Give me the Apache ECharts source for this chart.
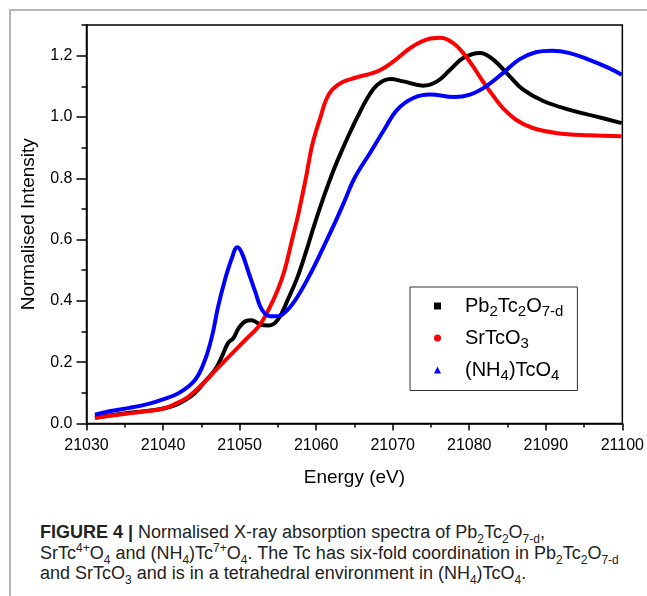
<!DOCTYPE html>
<html>
<head>
<meta charset="utf-8">
<script src="https://cdn.jsdelivr.net/npm/echarts@6/dist/echarts.min.js"></script>
<style>
  html, body { margin: 0; padding: 0; background: #fff; }
  #frame {
    position: absolute; left: 9px; top: 9px; width: 660px; height: 620px;
    border-top: 2px solid #b4b4b4; border-left: 2px solid #b4b4b4;
  }
  #chart { position: absolute; left: 0; top: 0; width: 647px; height: 510px; }
  #caption {
    position: absolute; left: 40px; top: 522px; width: 610px;
    font-family: "Liberation Sans", Arial, sans-serif; font-size: 18px;
    line-height: 20.5px; color: #222; white-space: nowrap;
  }
  #caption sub, #caption sup { font-size: 12px; line-height: 0; }
</style>
</head>
<body>
<div id="frame"></div>
<div id="chart"></div>
<div id="caption"><b>FIGURE 4 |</b> Normalised X-ray absorption spectra of Pb<sub>2</sub>Tc<sub>2</sub>O<sub>7-d</sub>,<br>SrTc<sup>4+</sup>O<sub>4</sub> and (NH<sub>4</sub>)Tc<sup>7+</sup>O<sub>4</sub>. The Tc has six-fold coordination in Pb<sub>2</sub>Tc<sub>2</sub>O<sub>7-d</sub><br>and SrTcO<sub>3</sub> and is in a tetrahedral environment in (NH<sub>4</sub>)TcO<sub>4</sub>.</div>
<script>
// series names as in the legend
const seriesNames = ["Pb2Tc2O7-d", "SrTcO3", "(NH4)TcO4"];

// Pb2Tc2O7-d (black squares)
const pbEnergy = [21031.1, 21033.0, 21035.6, 21038.1, 21039.9, 21041.6, 21043.0, 21044.2, 21045.5, 21046.8,
  21047.7, 21048.5, 21049.2, 21049.9, 21050.8, 21051.6, 21052.7, 21053.8, 21055.0, 21056.3,
  21057.6, 21058.9, 21059.7, 21061.0, 21062.3, 21063.7, 21064.6, 21065.4, 21066.7, 21068.0,
  21069.7, 21071.4, 21074.0, 21075.8, 21077.5, 21079.2, 21081.4, 21083.1, 21085.2, 21087.0,
  21089.6, 21093.0, 21096.5, 21099.9];
const pbIntensity = [0.019, 0.026, 0.035, 0.042, 0.048, 0.060, 0.078, 0.100, 0.138, 0.176,
  0.219, 0.263, 0.279, 0.312, 0.334, 0.337, 0.323, 0.320, 0.339, 0.404,
  0.480, 0.578, 0.643, 0.740, 0.828, 0.910, 0.959, 1.000, 1.062, 1.105,
  1.124, 1.116, 1.102, 1.116, 1.154, 1.192, 1.209, 1.188, 1.135, 1.090,
  1.053, 1.024, 1.002, 0.980];

// SrTcO3 (red circles)
const srEnergy = [21031.1, 21035.6, 21039.9, 21041.6, 21043.4, 21045.5, 21047.2, 21049.0, 21050.8, 21052.5,
  21053.8, 21055.0, 21055.9, 21056.8, 21057.6, 21058.1, 21058.7, 21059.1, 21059.5, 21060.0,
  21060.6, 21061.3, 21062.1, 21063.4, 21065.0, 21068.0, 21070.1, 21072.3, 21074.4, 21076.2,
  21077.9, 21079.2, 21080.5, 21081.8, 21083.1, 21084.4, 21086.1, 21088.3, 21091.3, 21095.6,
  21099.9];
const srIntensity = [0.019, 0.033, 0.048, 0.064, 0.089, 0.138, 0.182, 0.228, 0.274, 0.317,
  0.372, 0.437, 0.502, 0.594, 0.675, 0.733, 0.806, 0.861, 0.910, 0.955,
  1.002, 1.056, 1.089, 1.113, 1.127, 1.149, 1.181, 1.225, 1.252, 1.258,
  1.241, 1.209, 1.165, 1.115, 1.070, 1.029, 0.991, 0.964, 0.948, 0.940,
  0.937];

// (NH4)TcO4 (blue triangles)
const nhEnergy = [21031.1, 21033.0, 21035.6, 21038.1, 21039.9, 21042.1, 21044.2, 21045.5, 21046.4, 21047.2,
  21048.1, 21049.0, 21049.7, 21050.3, 21051.2, 21052.1, 21052.9, 21054.0, 21055.0, 21056.3,
  21057.6, 21059.3, 21061.0, 21062.4, 21063.7, 21065.0, 21067.1, 21068.9, 21070.6, 21072.7,
  21074.9, 21078.0, 21080.1, 21082.2, 21084.4, 21086.5, 21088.7, 21090.8, 21093.0, 21095.6,
  21098.2, 21099.9];
const nhIntensity = [0.029, 0.040, 0.051, 0.064, 0.078, 0.100, 0.143, 0.209, 0.285, 0.382,
  0.470, 0.540, 0.575, 0.556, 0.491, 0.426, 0.372, 0.350, 0.350, 0.372,
  0.415, 0.491, 0.578, 0.652, 0.725, 0.800, 0.885, 0.959, 1.024, 1.062,
  1.073, 1.065, 1.073, 1.100, 1.143, 1.187, 1.211, 1.216, 1.209, 1.187,
  1.160, 1.138];

const yMajorTicks = [0, 0.2, 0.4, 0.6, 0.8, 1.0, 1.2];

const zip = (xs, ys) => xs.map((x, i) => [x, ys[i]]);

const chart = echarts.init(document.getElementById("chart"));
const font = '"Liberation Sans", Arial, sans-serif';

const legendText = {
  "Pb2Tc2O7-d": "Pb{s|2}Tc{s|2}O{s|7-d}",
  "SrTcO3": "SrTcO{s|3}",
  "(NH4)TcO4": "(NH{s|4})TcO{s|4}"
};

const option = {
  animation: false,
  grid: { left: 86.5, right: 20, top: 25, bottom: 86.5, show: true, borderColor: "#000", borderWidth: 1.5 },
  legend: {
    orient: "vertical",
    left: 410,
    top: 287,
    padding: [9, 14, 7, 24],
    itemGap: 8.5,
    itemWidth: 7,
    itemHeight: 7,
    backgroundColor: "#fff",
    borderColor: "#333",
    borderWidth: 1,
    data: [
      { name: seriesNames[0], icon: "rect" },
      { name: seriesNames[1], icon: "circle" },
      { name: seriesNames[2], icon: "triangle" }
    ],
    formatter: (name) => legendText[name],
    textStyle: {
      fontFamily: font, fontSize: 20, color: "#000", padding: [0, 0, 0, 19],
      rich: { s: { fontFamily: font, fontSize: 15, color: "#000", padding: [12, 0, 0, 0] } }
    }
  },
  xAxis: {
    type: "value",
    min: 21030, max: 21100, interval: 10,
    name: "Energy (eV)", nameLocation: "middle", nameGap: 45,
    nameTextStyle: { fontFamily: font, fontSize: 19, color: "#000" },
    axisLine: { lineStyle: { color: "#000", width: 1.5 } },
    axisTick: { length: 7, lineStyle: { color: "#000", width: 1.5 } },
    minorTick: { show: true, splitNumber: 2, length: 4, lineStyle: { color: "#000", width: 1.5 } },
    axisLabel: { fontFamily: font, fontSize: 16, color: "#000", margin: 14, formatter: (v) => String(v) },
    splitLine: { show: false }
  },
  yAxis: [
    {
      type: "value",
      min: 0, max: 1.3, interval: 0.1,
      name: "Normalised Intensity", nameLocation: "middle", nameGap: 48,
      nameTextStyle: { fontFamily: font, fontSize: 19, color: "#000" },
      axisLine: { lineStyle: { color: "#000", width: 1.5 } },
      axisTick: { length: 5, lineStyle: { color: "#000", width: 1.5 } },
      axisLabel: {
        fontFamily: font, fontSize: 16, color: "#000", margin: 14,
        formatter: (v) => {
          const k = Math.round(v * 10);
          return (k % 2 === 0 && k <= 12) ? (k / 10).toFixed(1) : "";
        }
      },
      splitLine: { show: false }
    },
    {
      type: "value",
      min: 0, max: 1.3, position: "left",
      axisLine: { show: false },
      axisTick: { customValues: yMajorTicks, length: 10, lineStyle: { color: "#000", width: 1.5 } },
      axisLabel: { show: false },
      splitLine: { show: false }
    }
  ],
  series: [
    {
      name: seriesNames[0], type: "line", data: zip(pbEnergy, pbIntensity),
      showSymbol: false, smooth: 0.4,
      itemStyle: { color: "#000" }, lineStyle: { color: "#000", width: 4 }
    },
    {
      name: seriesNames[1], type: "line", data: zip(srEnergy, srIntensity),
      showSymbol: false, smooth: 0.4,
      itemStyle: { color: "#ff0000" }, lineStyle: { color: "#ff0000", width: 4 }
    },
    {
      name: seriesNames[2], type: "line", data: zip(nhEnergy, nhIntensity),
      showSymbol: false, smooth: 0.4,
      itemStyle: { color: "#0000ff" }, lineStyle: { color: "#0000ff", width: 4 }
    }
  ]
};

chart.setOption(option);
</script>
</body>
</html>
